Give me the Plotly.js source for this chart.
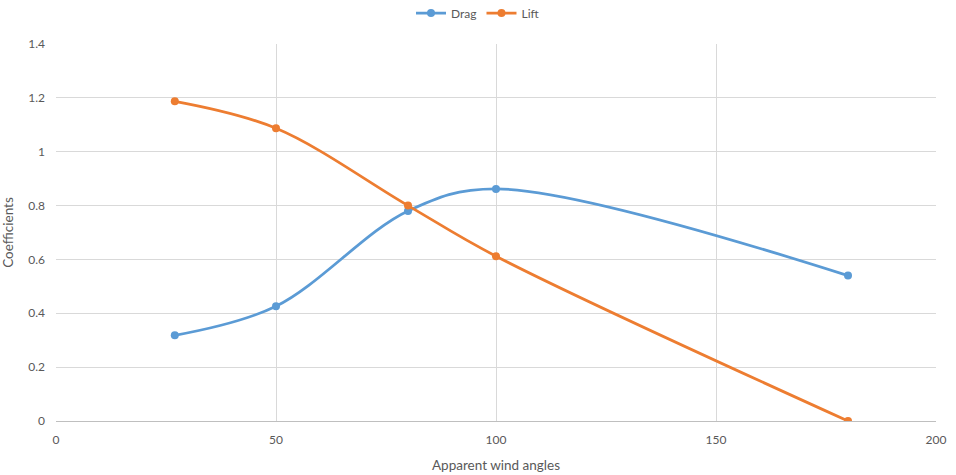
<!DOCTYPE html>
<html>
<head>
<meta charset="utf-8">
<script src="https://cdn.plot.ly/plotly-3.0.1.min.js"></script>
<style>html,body{margin:0;padding:0;background:#fff;}</style>
</head>
<body>
<div id="chart" style="width:956px;height:475px;"></div>
<script>
const angles = [27, 50, 80, 100, 180];
const drag = [0.318, 0.426, 0.78, 0.862, 0.54];
const lift = [1.187, 1.087, 0.80, 0.612, 0.0];
const xTicks = [0, 50, 100, 150, 200];
const yTicks = [0, 0.2, 0.4, 0.6, 0.8, 1, 1.2, 1.4];

const font = "Lato, 'Open Sans', sans-serif";
const traces = [
  {x: angles, y: drag, name: 'Drag', type: 'scatter', mode: 'lines+markers',
   line: {color: '#5B9BD5', width: 2.75, shape: 'spline', smoothing: 1},
   marker: {color: '#5B9BD5', size: 8}},
  {x: angles, y: lift, name: 'Lift', type: 'scatter', mode: 'lines+markers',
   line: {color: '#ED7D31', width: 2.75, shape: 'spline', smoothing: 1},
   marker: {color: '#ED7D31', size: 8}}
];
const layout = {
  width: 956, height: 475,
  margin: {l: 56, r: 20, t: 44, b: 54},
  paper_bgcolor: '#fff', plot_bgcolor: '#fff',
  font: {family: font, size: 12, color: '#595959'},
  showlegend: true,
  legend: {orientation: 'h', x: 0.5, xref: 'container', xanchor: 'center', y: 1 - 13/475, yanchor: 'middle',
           yref: 'container', font: {size: 12, color: '#595959'}},
  xaxis: {range: [0, 200], tickvals: xTicks, ticktext: xTicks.map(String),
          showgrid: true, gridcolor: '#D9D9D9', gridwidth: 1, zeroline: false,
          showline: true, linecolor: '#BFBFBF', linewidth: 1,
          ticks: '', ticklabelstandoff: 8,
          title: {text: 'Apparent wind angles', font: {size: 13.5, color: '#595959'}, standoff: 14}},
  yaxis: {range: [0, 1.4], tickvals: yTicks, ticktext: yTicks.map(String),
          showgrid: true, gridcolor: '#D9D9D9', gridwidth: 1, zeroline: false,
          showline: false, ticks: '', ticklabelstandoff: 10,
          title: {text: 'Coefficients', font: {size: 13.5, color: '#595959'}, standoff: 12}}
};
Plotly.newPlot('chart', traces, layout, {displayModeBar: false, staticPlot: true});
</script>
</body>
</html>
